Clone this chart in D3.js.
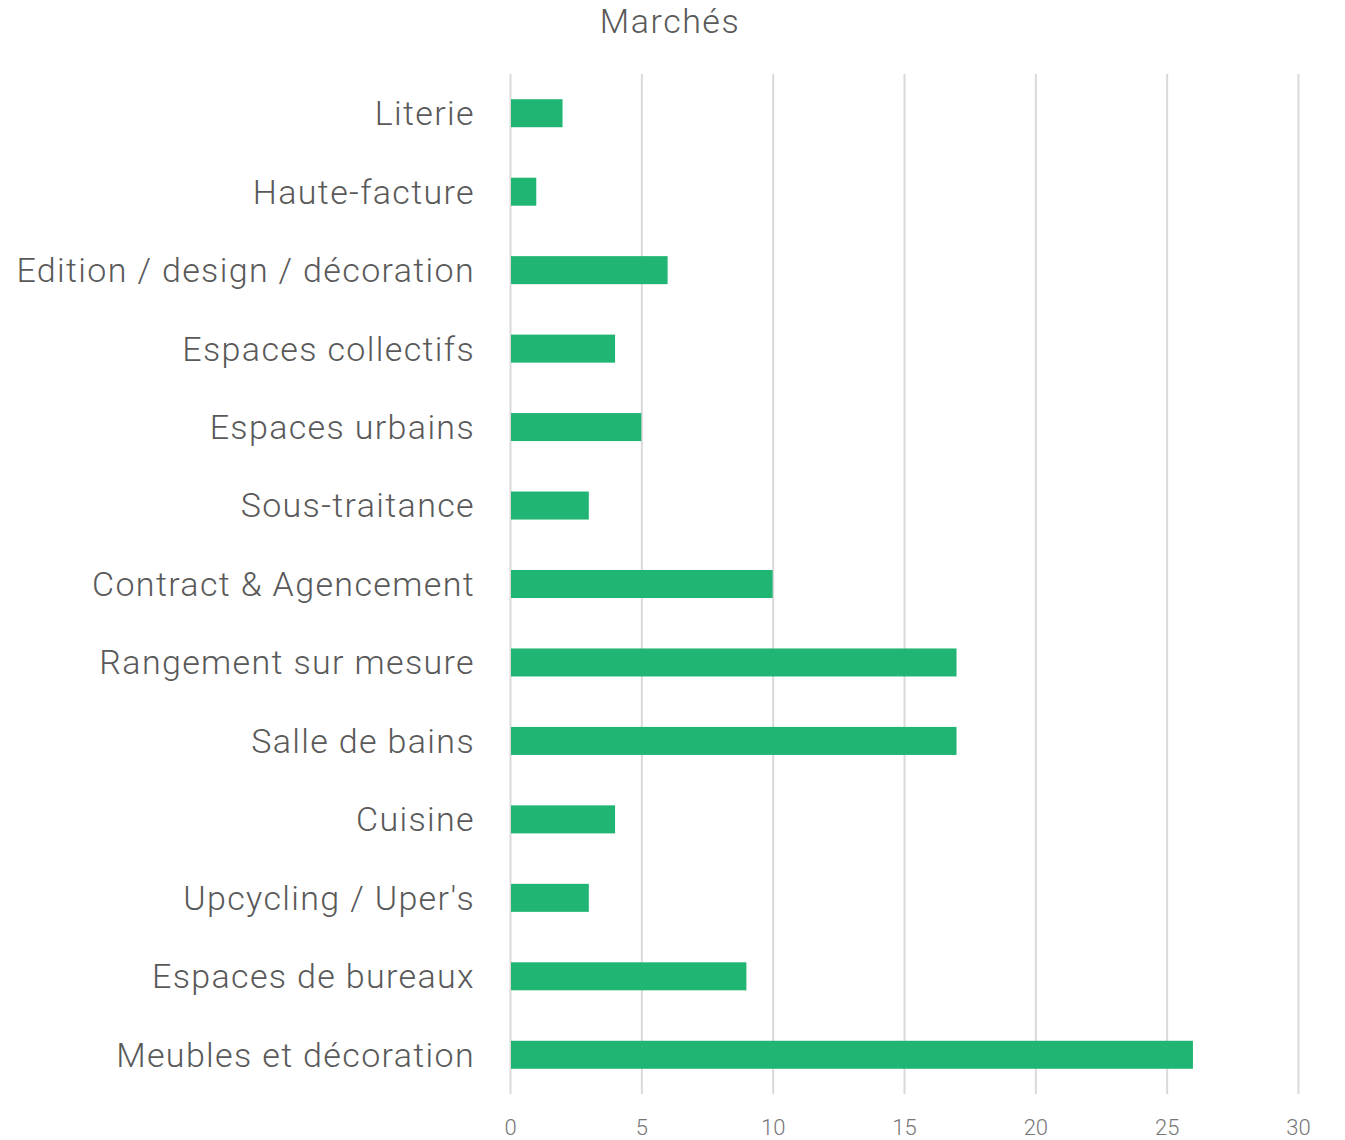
<!DOCTYPE html>
<html>
<head>
<meta charset="utf-8">
<script src="https://cdn.jsdelivr.net/npm/d3@7"></script>
<style>
  body { margin: 0; background: #fff; }
  text { font-family: Roboto, sans-serif; font-weight: 300; }
</style>
</head>
<body>
<div class="chart"></div>
<script>
var categories = [
  "Literie",
  "Haute-facture",
  "Edition / design / décoration",
  "Espaces collectifs",
  "Espaces urbains",
  "Sous-traitance",
  "Contract & Agencement",
  "Rangement sur mesure",
  "Salle de bains",
  "Cuisine",
  "Upcycling / Uper's",
  "Espaces de bureaux",
  "Meubles et décoration"
];
var values = [2, 1, 6, 4, 5, 3, 10, 17, 17, 4, 3, 9, 26];
var xTicks = [0, 5, 10, 15, 20, 25, 30];

var margin = { top: 74, right: 47, bottom: 46, left: 510 };
var width = 1345 - margin.left - margin.right;
var height = 1140 - margin.top - margin.bottom;

var svg = d3
  .select(".chart")
  .append("svg")
  .attr("width", 1345)
  .attr("height", 1140);

var chart = svg
  .append("g")
  .attr("transform", `translate(${margin.left},${margin.top})`);

var xScale = d3.scaleLinear().domain([0, 30]).range([0, width]);
var yScale = d3
  .scaleBand()
  .domain(categories)
  .range([0, height])
  .paddingInner(0.643)
  .paddingOuter(0.3215);

// gridlines
chart
  .append("g")
  .attr("class", "grid")
  .call(d3.axisBottom(xScale).tickValues(xTicks).tickSize(height).tickFormat(""))
  .call(g => g.select(".domain").remove())
  .selectAll("line")
  .attr("stroke", "#d9d9d9")
  .attr("stroke-width", 2);

// x axis labels
chart
  .append("g")
  .attr("transform", `translate(0,${height})`)
  .call(d3.axisBottom(xScale).tickValues(xTicks).tickSize(0).tickPadding(25))
  .call(g => g.select(".domain").remove())
  .selectAll("text")
  .attr("fill", "#777")
  .attr("font-size", 22)
  .style("font-family", "Roboto, sans-serif");

// y axis labels
chart
  .append("g")
  .call(d3.axisLeft(yScale).tickSize(0).tickPadding(35))
  .call(g => g.select(".domain").remove())
  .selectAll("text")
  .attr("fill", "#595959")
  .attr("font-size", 34)
  .attr("dy", "0.35em")
  .style("letter-spacing", "1.35px")
  .style("font-family", "Roboto, sans-serif");

// bars
chart
  .selectAll(".bar")
  .data(values)
  .enter()
  .append("rect")
  .attr("class", "bar")
  .attr("x", xScale(0) + 1)
  .attr("y", (d, i) => yScale(categories[i]))
  .attr("width", d => xScale(d) - 1)
  .attr("height", yScale.bandwidth())
  .attr("fill", "#20b573");

// title
svg
  .append("text")
  .attr("x", 670)
  .attr("y", 33)
  .attr("text-anchor", "middle")
  .attr("fill", "#595959")
  .attr("font-size", 34)
  .style("letter-spacing", "1.5px")
  .text("Marchés");
</script>
</body>
</html>
